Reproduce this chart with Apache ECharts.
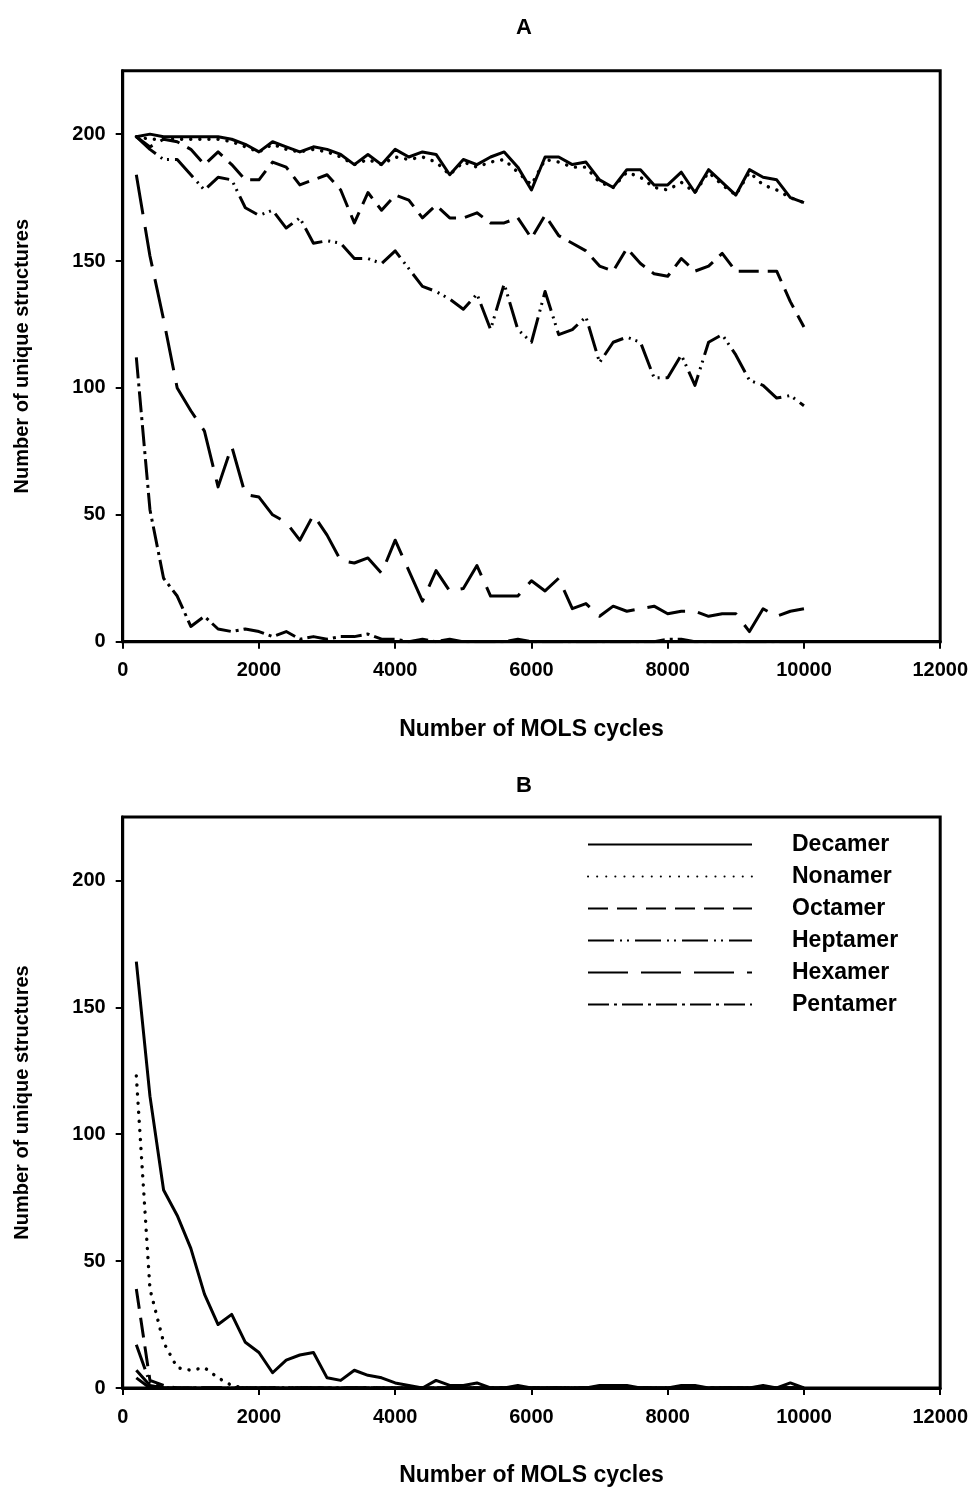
<!DOCTYPE html>
<html>
<head>
<meta charset="utf-8">
<style>
  html, body { margin: 0; padding: 0; background: #fff; }
  #chart { width: 975px; height: 1490px; }
</style>
<script src="https://cdn.jsdelivr.net/npm/echarts@6/dist/echarts.min.js"></script>
</head>
<body>
<div id="chart"></div>
<script>
// MOLS cycle counts (x values), every 200 cycles from 200 to 10000
const cycles = [];
for (let c = 200; c <= 10000; c += 200) cycles.push(c);

const xTicks = [0, 2000, 4000, 6000, 8000, 10000, 12000];
const yTicks = [0, 50, 100, 150, 200];
const seriesNames = ['Decamer', 'Nonamer', 'Octamer', 'Heptamer', 'Hexamer', 'Pentamer'];

// Panel A: number of unique structures per oligomer length
const decamerA = [199, 200, 199, 199, 199, 199, 199, 198, 196, 193,
                  197, 195, 193, 195, 194, 192, 188, 192, 188, 194,
                  191, 193, 192, 184, 190, 188, 191, 193, 187, 178,
                  191, 191, 188, 189, 182, 179, 186, 186, 180, 180,
                  185, 177, 186, 181, 176, 186, 183, 182, 175, 173];
const nonamerA = [199, 198, 198, 198, 198, 198, 198, 197, 195, 193,
                  196, 194, 193, 194, 193, 191, 188, 190, 188, 191,
                  190, 191, 189, 184, 189, 187, 189, 190, 185, 180,
                  190, 189, 187, 187, 181, 179, 185, 183, 179, 178,
                  181, 177, 185, 180, 176, 185, 180, 178, 175, 173];
const octamerA = [199, 195, 198, 197, 194, 188, 193, 188, 182, 182,
                  189, 187, 180, 182, 184, 178, 165, 177, 170, 176,
                  174, 167, 172, 167, 167, 169, 165, 165, 167, 159,
                  168, 160, 157, 154, 148, 146, 155, 149, 145, 144,
                  151, 146, 148, 153, 146, 146, 146, 146, 134, 124];
const heptamerA = [199, 194, 190, 190, 184, 178, 183, 182, 171, 168,
                   170, 163, 167, 157, 158, 157, 151, 151, 149, 154,
                   147, 140, 138, 135, 131, 137, 123, 141, 123, 118,
                   138, 121, 123, 128, 110, 118, 120, 118, 104, 104,
                   113, 101, 118, 121, 113, 103, 101, 96, 97, 93];
const hexamerA = [184, 152, 127, 100, 91, 83, 61, 77, 58, 57,
                  50, 47, 40, 50, 42, 32, 31, 33, 27, 40,
                  28, 16, 28, 20, 21, 30, 18, 18, 18, 24,
                  20, 25, 13, 15, 10, 14, 12, 13, 14, 11,
                  12, 12, 10, 11, 11, 4, 13, 10, 12, 13];
const pentamerA = [112, 52, 25, 18, 6, 10, 5, 4, 5, 4,
                   2, 4, 1, 2, 1, 2, 2, 3, 1, 1,
                   0, 1, 0, 1, 0, 0, 0, 0, 1, 0,
                   0, 0, 0, 0, 0, 0, 0, 0, 0, 1,
                   1, 0, 0, 0, 0, 0, 0, 0, 0, 0];

// Panel B
const decamerB = [168, 115, 78, 68, 55, 37, 25, 29, 18, 14,
                  6, 11, 13, 14, 4, 3, 7, 5, 4, 2,
                  1, 0, 3, 1, 1, 2, 0, 0, 1, 0,
                  0, 0, 0, 0, 1, 1, 1, 0, 0, 0,
                  1, 1, 0, 0, 0, 0, 1, 0, 2, 0];
const nonamerB = [123, 39, 18, 8, 7, 8, 4, 1, 0, 0,
                  0, 0, 0, 0, 0, 0, 0, 0, 0, 0,
                  0, 0, 0, 0, 0, 0, 0, 0, 0, 0,
                  0, 0, 0, 0, 0, 0, 0, 0, 0, 0,
                  0, 0, 0, 0, 0, 0, 0, 0, 0, 0];
const octamerB = [39, 3, 1, 0, 0, 0, 0, 0, 0, 0,
                  0, 0, 0, 0, 0, 0, 0, 0, 0, 0,
                  0, 0, 0, 0, 0, 0, 0, 0, 0, 0,
                  0, 0, 0, 0, 0, 0, 0, 0, 0, 0,
                  0, 0, 0, 0, 0, 0, 0, 0, 0, 0];
const heptamerB = [17, 2, 0, 0, 0, 0, 0, 0, 0, 0,
                   0, 0, 0, 0, 0, 0, 0, 0, 0, 0,
                   0, 0, 0, 0, 0, 0, 0, 0, 0, 0,
                   0, 0, 0, 0, 0, 0, 0, 0, 0, 0,
                   0, 0, 0, 0, 0, 0, 0, 0, 0, 0];
const hexamerB = [7, 1, 0, 0, 0, 0, 0, 0, 0, 0,
                  0, 0, 0, 0, 0, 0, 0, 0, 0, 0,
                  0, 0, 0, 0, 0, 0, 0, 0, 0, 0,
                  0, 0, 0, 0, 0, 0, 0, 0, 0, 0,
                  0, 0, 0, 0, 0, 0, 0, 0, 0, 0];
const pentamerB = [4, 0, 0, 0, 0, 0, 0, 0, 0, 0,
                   0, 0, 0, 0, 0, 0, 0, 0, 0, 0,
                   0, 0, 0, 0, 0, 0, 0, 0, 0, 0,
                   0, 0, 0, 0, 0, 0, 0, 0, 0, 0,
                   0, 0, 0, 0, 0, 0, 0, 0, 0, 0];

const FONT = '"Liberation Sans", Arial, sans-serif';
const INK = '#000';

// line pattern for each oligomer length
const dashStyles = {
  Decamer:  { type: 'solid', cap: 'butt' },
  Nonamer:  { type: [0.1, 9], cap: 'round' },
  Octamer:  { type: [20, 9], cap: 'butt' },
  Heptamer: { type: [26, 6, 2, 5, 2, 6], cap: 'butt' },
  Hexamer:  { type: [40, 13], cap: 'butt' },
  Pentamer: { type: [21, 5, 3, 5], cap: 'butt' }
};

function pairs(values) {
  return cycles.map((c, i) => [c, values[i]]);
}

function makeSeries(name, values, axisIndex) {
  const st = dashStyles[name];
  return {
    name: name,
    type: 'line',
    xAxisIndex: axisIndex,
    yAxisIndex: axisIndex,
    data: pairs(values),
    symbol: 'none',
    showSymbol: false,
    silent: true,
    lineStyle: { color: INK, width: name === 'Nonamer' ? 3.4 : 3, type: st.type, cap: st.cap, join: 'round' }
  };
}

const plainNumber = v => String(v);

function xAxisFor(gridIndex) {
  return {
    type: 'value', gridIndex: gridIndex, min: 0, max: 12000, interval: 2000,
    name: 'Number of MOLS cycles', nameLocation: 'middle', nameGap: 76,
    nameTextStyle: { fontFamily: FONT, fontWeight: 'bold', fontSize: 23, color: INK },
    axisLine: { show: true, lineStyle: { color: INK, width: 3 } },
    axisTick: { show: true, inside: false, length: 7, lineStyle: { color: INK, width: 2 } },
    axisLabel: { fontFamily: FONT, fontWeight: 'bold', fontSize: 20, color: INK, margin: 19,
                 customValues: xTicks, formatter: plainNumber },
    splitLine: { show: false }
  };
}

function yAxisFor(gridIndex) {
  return {
    type: 'value', gridIndex: gridIndex, min: 0, max: 225, interval: 25,
    name: 'Number of unique structures', nameLocation: 'middle', nameGap: 90, nameRotate: 90,
    nameTextStyle: { fontFamily: FONT, fontWeight: 'bold', fontSize: 20, color: INK },
    axisLine: { show: true, lineStyle: { color: INK, width: 3 } },
    axisTick: { show: true, inside: false, length: 7, lineStyle: { color: INK, width: 2 },
                customValues: yTicks },
    axisLabel: { fontFamily: FONT, fontWeight: 'bold', fontSize: 20, color: INK, margin: 17,
                 customValues: yTicks, formatter: plainNumber },
    splitLine: { show: false }
  };
}

const gridBase = { left: 122.7, width: 817.5, height: 571, show: true,
                   borderColor: INK, borderWidth: 3, backgroundColor: 'transparent' };

const seriesA = [decamerA, nonamerA, octamerA, heptamerA, hexamerA, pentamerA];
const seriesB = [decamerB, nonamerB, octamerB, heptamerB, hexamerB, pentamerB];

const option = {
  animation: false,
  backgroundColor: '#fff',
  title: [
    { text: 'A', left: 519, top: 12, textAlign: 'center',
      textStyle: { fontFamily: FONT, fontWeight: 'bold', fontSize: 22, color: INK } },
    { text: 'B', left: 519, top: 770, textAlign: 'center',
      textStyle: { fontFamily: FONT, fontWeight: 'bold', fontSize: 22, color: INK } }
  ],
  grid: [
    Object.assign({ top: 70.7 }, gridBase),
    Object.assign({ top: 817 }, gridBase)
  ],
  xAxis: [xAxisFor(0), xAxisFor(1)],
  yAxis: [yAxisFor(0), yAxisFor(1)],
  legend: {
    data: seriesNames,
    orient: 'vertical',
    left: 582, top: 828,
    itemWidth: 164, itemHeight: 16, itemGap: 9.0,
    selectedMode: false,
    itemStyle: { opacity: 0 },
    textStyle: { fontFamily: FONT, fontWeight: 'bold', fontSize: 23, lineHeight: 16,
                 color: INK, padding: [0, 0, 0, 35] }
  },
  series: seriesNames.map((n, k) => makeSeries(n, seriesA[k], 0))
    .concat(seriesNames.map((n, k) => makeSeries(n, seriesB[k], 1)))
};

const chart = echarts.init(document.getElementById('chart'), null, { renderer: 'canvas' });
chart.setOption(option);
</script>
</body>
</html>
